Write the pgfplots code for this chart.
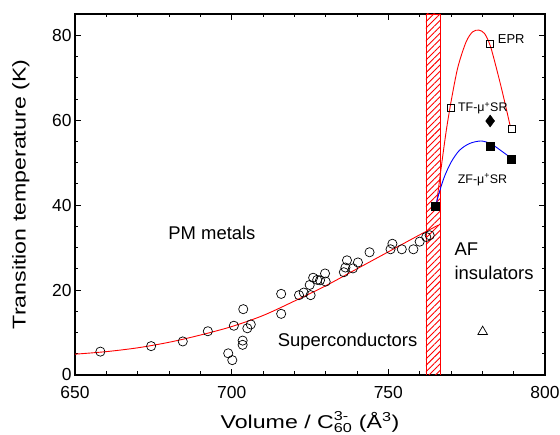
\documentclass[border=0pt]{standalone}
\usepackage{pgfplots}
\pgfplotsset{compat=1.18}
\usepackage{fontspec}
\setmainfont{Liberation Sans}
\newfontfamily\labelfont[FakeStretch=1.25]{Liberation Sans}
\usetikzlibrary{patterns.meta,calc}

\begin{document}
\begin{tikzpicture}
\begin{axis}[name=ax,
  scale only axis, width=470bp, height=361bp,
  xmin=650, xmax=800, ymin=0, ymax=85,
  xtick={650,700,750,800}, minor x tick num=4,
  ytick={0,20,40,60,80}, minor y tick num=3,
  tick align=inside, major tick length=6bp, minor tick length=3.5bp,
  axis line style={line width=1.1pt}, tick style={black, line width=0.8pt},
  /pgf/number format/assume math mode=true,
  ticklabel style={font=\fontsize{17.5}{18}\selectfont},
  xticklabel style={yshift=-8bp},
  xlabel={\labelfont\fontsize{18.6}{20}\selectfont Volume / C\rlap{\raisebox{1.5bp}{\textsuperscript{3-}}}\raisebox{-1.5bp}{\textsubscript{60}} (Å\textsuperscript{3})},
  ylabel={\labelfont\fontsize{18.6}{20}\selectfont Transition temperature (K)},
  xlabel style={at={(axis description cs:0.5,-0.147)}, anchor=base},
  ylabel style={at={(axis description cs:-0.115,0.5)}, anchor=center},
]
% AF/metal boundary band
\addplot[draw=red, line width=0.7pt, pattern={Lines[angle=45, distance=4.5bp, line width=0.9pt]}, pattern color=red]
  coordinates {(762,85) (766.5,85)} \closedcycle;

% fit through the superconductors
\addplot[red, line width=0.9pt, smooth, no marks] coordinates {
(650,4.9) (660,5.5) (670,6.4) (680,7.7) (690,9.4) (700,11.4) (710,14.0)
(720,17.4) (730,21.0) (740,25.0) (750,29.0) (760,33.0) (766,35.3)};

% TF dome
\addplot[red, line width=0.9pt, smooth, no marks] coordinates {
(765.4,40.4) (766.9,49.0) (768.5,57.6) (770.1,64.7) (772.2,72.5) (774.8,78.4)
(776.9,80.8) (778.9,81.2) (780.7,80.4) (782.5,77.6) (784.4,72.5) (786.5,66.3) (788.9,58.6)};

% ZF dome
\addplot[blue, line width=0.9pt, smooth, no marks] coordinates {
(765.1,39.8) (766.3,43.1) (767.9,46.7) (770.1,50.2) (772.7,52.9) (775.9,54.5)
(779.6,55.1) (782.8,54.4) (786.0,52.8) (789.7,50.8)};

% superconducting Tc
\addplot[only marks, mark=o, mark size=4.6bp, mark options={line width=0.7pt, black}] coordinates {
(658.1,5.5) (674.3,6.8) (684.4,7.9) (692.4,10.3) (698.9,5.1) (700.2,3.5)
(700.7,11.6) (703.7,15.5) (703.5,8.1) (703.5,7.1) (705.0,11.0) (706.1,11.9)
(715.8,19.1) (715.8,14.4) (721.5,18.8) (723.0,19.4) (725.2,18.8) (724.9,21.2)
(726.0,22.9) (727.3,22.4) (728.2,22.3) (729.8,23.9) (730.0,22.0) (735.8,24.2)
(736.3,25.3) (736.8,27.0) (738.7,25.1) (740.3,26.5) (744.0,28.9) (751.3,30.9)
(750.7,29.6) (754.3,29.6) (758.0,29.6) (760.0,31.4) (762.1,32.5) (763.2,32.9)};

% EPR / TF open squares
\addplot[only marks, mark=square, mark size=3.6bp, mark options={line width=0.7pt, black}] coordinates {
(782.5,78.0) (770.0,62.9) (789.3,58.0)};

% ZF filled squares
\addplot[only marks, mark=square*, mark size=4bp, mark options={black}] coordinates {
(765.1,39.8) (782.5,53.9) (789.2,50.8)};

% diamond
\addplot[only marks, mark=diamond*, mark size=6bp, mark options={black}] coordinates {
(782.5,59.8)};

% triangle
\addplot[only marks, mark=triangle, mark size=5.5bp, mark options={line width=0.7pt, black}] coordinates {
(780.1,10.2)};

\node[anchor=base, font=\fontsize{18.5}{20}\selectfont] at (axis cs:693.7,31.8) {PM metals};
\node[anchor=base, font=\fontsize{18.5}{20}\selectfont] at (axis cs:737.0,6.7) {Superconductors};
\node[anchor=base west, inner sep=0pt, font=\fontsize{18.5}{20}\selectfont] at (axis cs:771.1,28.2) {AF};
\node[anchor=base west, inner sep=0pt, font=\fontsize{18.5}{20}\selectfont] at (axis cs:771.1,22.4) {insulators};
\node[anchor=base west, inner sep=0pt, font=\fontsize{13}{14}\selectfont] at (axis cs:784.9,78.0) {EPR};
\node[anchor=base west, inner sep=0pt, font=\fontsize{12.5}{14}\selectfont] at (axis cs:772.2,62.0) {TF-μ\textsuperscript{+}SR};
\node[anchor=base west, inner sep=0pt, font=\fontsize{12.5}{14}\selectfont] at (axis cs:772.1,45.2) {ZF-μ\textsuperscript{+}SR};
\end{axis}
\pgfresetboundingbox
\path[use as bounding box] ($(ax.south west)+(-75bp,-60bp)$) rectangle ($(ax.north east)+(15bp,14bp)$);
\end{tikzpicture}
\end{document}
